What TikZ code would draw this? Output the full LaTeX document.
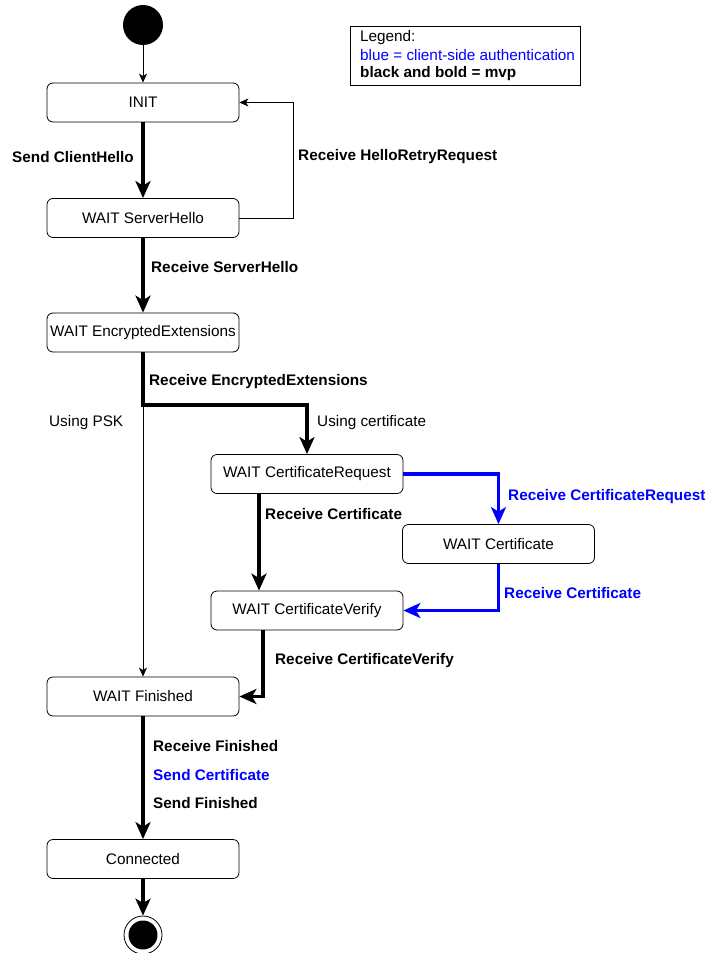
\documentclass[tikz,border=0pt]{standalone}
\usepackage{fontspec}
\setmainfont{Liberation Sans}
\usetikzlibrary{arrows.meta}
\definecolor{authblue}{RGB}{0,0,255}
\tikzset{
  state/.style={draw, rounded corners=6pt, line width=0.8pt, minimum width=192pt,
    minimum height=39pt, inner sep=0pt, font=\fontsize{15.3}{18}\selectfont},
  lbl/.style={anchor=west, inner sep=0pt, font=\fontsize{15.3}{18}\selectfont},
  blbl/.style={lbl, font=\fontsize{15.3}{18}\selectfont\bfseries},
  thinarrow/.style={line width=0.8pt, -{Stealth[length=9pt,width=8pt,inset=2.5pt]}},
  mvparrow/.style={line width=3.5pt, -{Stealth[length=17pt,width=15pt,inset=4.5pt]}},
  authfarrow/.style={mvparrow, draw=authblue, color=authblue},
}
\begin{document}
\begin{tikzpicture}[x=1pt,y=-1pt]
\useasboundingbox (0,0) rectangle (708,953);

% start and end markers
\node[circle, fill=black, minimum size=40pt, inner sep=0pt] (start) at (143,25) {};
\node[circle, draw, line width=0.8pt, minimum size=38pt, inner sep=0pt] (stop) at (143,935) {};
\node[circle, fill=black, minimum size=29pt, inner sep=0pt] (stopdot) at (143,935) {};

% states
\node[state] (init) at (143,102.5) {INIT};
\node[state] (sh)   at (143,218) {WAIT ServerHello};
\node[state] (ee)   at (143,332.5) {WAIT EncryptedExtensions};
\node[state] (cr)   at (307,474) {WAIT CertificateRequest};
\node[state] (cert) at (498.5,544) {WAIT Certificate};
\node[state] (cv)   at (307,610.5) {WAIT CertificateVerify};
\node[state] (fin)  at (143,696.5) {WAIT Finished};
\node[state] (conn) at (143,859) {Connected};

% legend
\node[draw, line width=0.8pt, minimum width=230pt, minimum height=59pt, inner sep=0pt,
  anchor=north west] (legend) at (350,26) {};
\node[lbl] (leg1) at (360,37.5) {Legend:};
\node[lbl, text=authblue] (leg2) at (360,55.5) {blue = client-side authentication};
\node[blbl] (leg3) at (360,73.5) {black and bold = mvp};

% bend points
\coordinate (retry) at (293,218);
\coordinate (split) at (143,405);

% transitions
\draw[thinarrow] (start) -- (init);
\draw[thinarrow] (sh.east) -- (retry) |- (init.east);
\draw[thinarrow] (ee.south) -- (fin.north);

\draw[mvparrow] (init) -- (sh);
\draw[mvparrow] (sh) -- (ee);
\draw[mvparrow] (ee.south) -- (split) -| (cr.north);
\draw[mvparrow] ([xshift=-48pt]cr.south) -- ([xshift=-48pt]cv.north);
\draw[mvparrow] ([xshift=-44pt]cv.south) |- (fin.east);
\draw[mvparrow] (fin) -- (conn);
\draw[mvparrow] (conn) -- (stop);

\draw[authfarrow] (cr.east) -| (cert.north);
\draw[authfarrow] (cert.south) |- (cv.east);

% transition labels
\node[blbl] (l1) at (12,157) {Send ClientHello};
\node[blbl] (l2) at (298,157) {Receive HelloRetryRequest};
\node[blbl] (l3) at (151,267) {Receive ServerHello};
\node[blbl] (l4) at (149,382) {Receive EncryptedExtensions};
\node[lbl] (l5) at (49,423) {Using PSK};
\node[lbl] (l6) at (317,423) {Using certificate};
\node[blbl] (l7) at (265,514) {Receive Certificate};
\node[blbl, text=authblue] (l8) at (508,497) {Receive CertificateRequest};
\node[blbl, text=authblue] (l9) at (504,593) {Receive Certificate};
\node[blbl] (l10) at (275,661) {Receive CertificateVerify};
\node[blbl] (l11) at (153,746) {Receive Finished};
\node[blbl, text=authblue] (l12) at (153,775) {Send Certificate};
\node[blbl] (l13) at (153,803) {Send Finished};
\end{tikzpicture}
\end{document}
